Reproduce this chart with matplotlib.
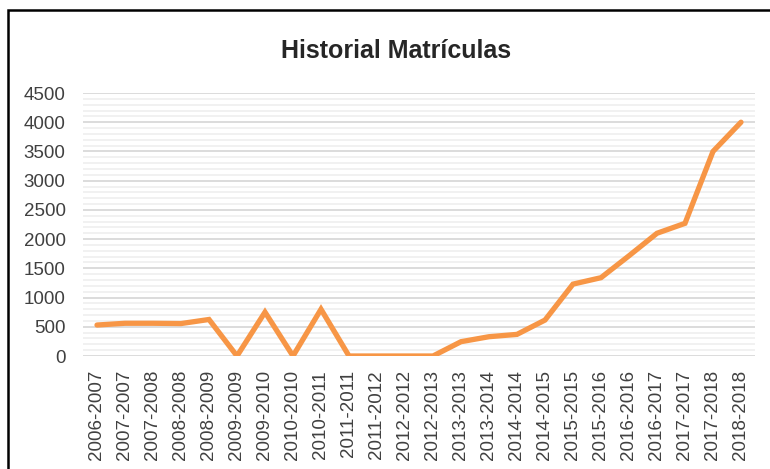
import matplotlib
matplotlib.use("Agg")
import matplotlib.pyplot as plt
from matplotlib.patches import Rectangle
from matplotlib.ticker import MultipleLocator

periodos = [
    "2006-2007", "2007-2007", "2007-2008", "2008-2008", "2008-2009",
    "2009-2009", "2009-2010", "2010-2010", "2010-2011", "2011-2011",
    "2011-2012", "2012-2012", "2012-2013", "2013-2013", "2013-2014",
    "2014-2014", "2014-2015", "2015-2015", "2015-2016", "2016-2016",
    "2016-2017", "2017-2017", "2017-2018", "2018-2018",
]
matriculas = [
    530, 560, 560, 555, 625,
    0, 750, 0, 800, 0,
    0, 0, 0, 245, 330,
    370, 615, 1230, 1340, 1715,
    2100, 2270, 3500, 4000,
]

plt.rcParams["font.family"] = ["Liberation Sans", "DejaVu Sans"]

fig = plt.figure(figsize=(7.7, 4.69), dpi=100)
ax = fig.add_axes([83 / 770, 1 - 356 / 469, 672 / 770, 263 / 469])

x = list(range(len(periodos)))
ax.plot(x, matriculas, color="#F79646", lw=3.8, solid_capstyle="round",
        solid_joinstyle="miter", zorder=3)

ax.set_xlim(-0.5, len(periodos) - 0.5)
ax.set_ylim(0, 4500)
ax.yaxis.set_major_locator(MultipleLocator(500))
ax.yaxis.set_minor_locator(MultipleLocator(100))
ax.grid(True, which="major", axis="y", color="#d9d9d9", lw=1.3, zorder=1)
ax.grid(True, which="minor", axis="y", color="#f0f0f0", lw=1.3, zorder=0)
ax.set_xticks(x)
ax.set_xticklabels(periodos, rotation=90)
ax.tick_params(axis="both", which="both", length=0, labelsize=13.5, colors="#404040")
ax.tick_params(axis="y", pad=12.5)
ax.tick_params(axis="x", pad=10)
for s in ax.spines.values():
    s.set_visible(False)

fig.text(0.514, 1 - 58 / 469, "Historial Matrículas", ha="center", va="baseline",
         fontsize=18, fontweight="bold", color="#262626")

# marco del gráfico (se sale por la derecha y abajo)
fig.patches.append(Rectangle((7.5 / 770, -0.2), 1.2, 1.2 - 10.5 / 469,
                             transform=fig.transFigure, fill=False,
                             edgecolor="black", lw=1.8))

fig.savefig("out.png", dpi=100)
